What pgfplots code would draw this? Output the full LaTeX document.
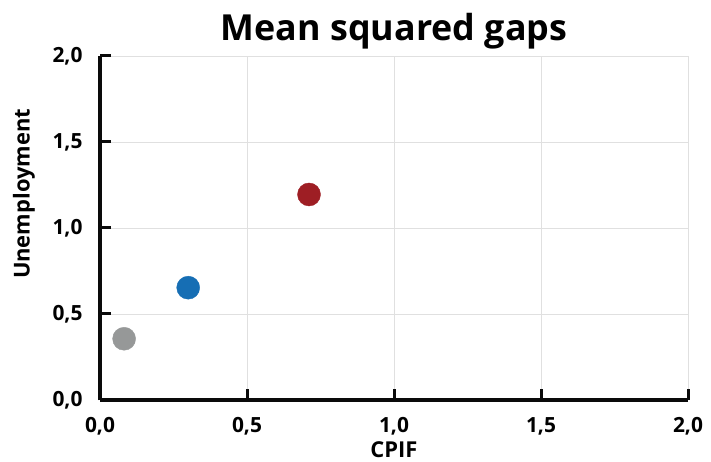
\documentclass[border=0pt]{standalone}
\usepackage{pgfplots}
\pgfplotsset{compat=1.18}
\usepackage{fontspec}
\setmainfont{Open Sans}
\definecolor{cgray}{RGB}{150,152,152}
\definecolor{cblue}{RGB}{22,110,180}
\definecolor{cred}{RGB}{158,30,36}
\definecolor{axblack}{RGB}{10,10,10}
\begin{document}
\begin{tikzpicture}
\useasboundingbox (0,0) rectangle (711bp,462bp);
\begin{axis}[
  at={(100bp,62bp)}, anchor=origin,
  scale only axis, width=588bp, height=344bp,
  xmin=0, xmax=2, ymin=0, ymax=2,
  xtick={0,0.5,1,1.5,2}, ytick={0,0.5,1,1.5,2},
  axis lines*=left,
  axis line style={line width=3.2bp, axblack},
  every tick/.style={line width=3bp, axblack},
  tick align=inside, major tick length=11bp,
  grid=major, major grid style={draw=black!12, line width=0.8bp},
  /pgf/number format/fixed,
  /pgf/number format/fixed zerofill,
  /pgf/number format/precision=1,
  /pgf/number format/use comma,
  /pgf/number format/assume math mode=true,
  ticklabel style={font=\fontsize{21}{24}\selectfont\bfseries},
  xticklabel style={anchor=north, yshift=-14bp},
  yticklabel style={anchor=east, xshift=-14bp},
  xlabel={CPIF}, ylabel={Unemployment},
  label style={font=\fontsize{22}{26}\selectfont\bfseries},
  xlabel style={at={(axis description cs:0.5,0)}, anchor=center, yshift=-50bp},
  ylabel style={at={(axis description cs:0,0.5)}, anchor=center, xshift=34bp, yshift=76bp},
  title={Mean squared gaps},
  title style={font=\fontsize{36}{40}\selectfont\bfseries, at={(axis description cs:0.5,1)}, anchor=base, yshift=10bp},
  clip=false,
]
\addplot[only marks, mark=*, mark size=11.5bp, cgray, mark options={draw=cgray, fill=cgray}] coordinates {(0.082,0.356)};
\addplot[only marks, mark=*, mark size=11.5bp, cblue, mark options={draw=cblue, fill=cblue}] coordinates {(0.30,0.653)};
\addplot[only marks, mark=*, mark size=11.5bp, cred, mark options={draw=cred, fill=cred}] coordinates {(0.711,1.195)};
\end{axis}
\end{tikzpicture}
\end{document}
